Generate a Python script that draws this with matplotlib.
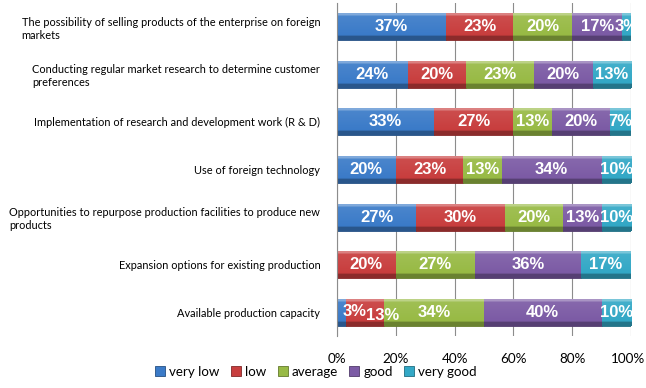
import matplotlib
matplotlib.use("Agg")
import matplotlib.pyplot as plt
import matplotlib.transforms as mtransforms
import numpy as np
from matplotlib.colors import to_rgb

categories = [
    "The possibility of selling products of the enterprise on foreign\nmarkets",
    "Conducting regular market research to determine customer\npreferences",
    "Implementation of research and development work (R & D)",
    "Use of foreign technology",
    "Opportunities to repurpose production facilities to produce new\nproducts",
    "Expansion options for existing production",
    "Available production capacity",
]
series_names = ["very low", "low", "average", "good", "very good"]
very_low = [37, 24, 33, 20, 27, 0, 3]
low = [23, 20, 27, 23, 30, 20, 13]
average = [20, 23, 13, 13, 20, 27, 34]
good = [17, 20, 20, 34, 13, 36, 40]
very_good = [3, 13, 7, 10, 10, 17, 10]
xtick_labels = ["0%", "20%", "40%", "60%", "80%", "100%"]

colors = ["#3B7BC8", "#C83E3E", "#98BA45", "#7C5BA5", "#33A8C6"]

fig = plt.figure(figsize=(6.46, 3.88), dpi=100)
ax = fig.add_axes([337/646, 1-336/388, (631-337)/646, (336-3)/388])

data = [very_low, low, average, good, very_good]
y = np.arange(len(categories))
left = np.zeros(len(categories))
bar_h = 0.57

def shade(c, f):
    r = np.array(to_rgb(c))
    if f >= 0:
        return r + (1 - r) * f
    return r * (1 + f)

grad_vals = np.linspace(0, 1, 64)
for si, (name, vals) in enumerate(zip(series_names, data)):
    vals = np.array(vals, dtype=float)
    bars = ax.barh(y, vals, left=left, height=bar_h, color=colors[si],
                   edgecolor=shade(colors[si], -0.35), linewidth=0.6,
                   label=name, zorder=2)
    base = colors[si]
    # vertical gradient (light top, darker bottom)
    col = []
    for t in grad_vals:
        if t < 0.12:
            col.append(shade(base, 0.35))
        elif t < 0.85:
            col.append(shade(base, 0.08 - 0.12 * (t - 0.12)))
        else:
            col.append(shade(base, -0.3))
    img = np.array(col).reshape(-1, 1, 3)
    for b, v in zip(bars, vals):
        if v <= 0:
            continue
        x0, y0 = b.get_x(), b.get_y()
        w, h = b.get_width(), b.get_height()
        im = ax.imshow(img, extent=(x0, x0 + w, y0 + h, y0), aspect="auto",
                       zorder=2.5, interpolation="bilinear")
        im.set_clip_path(b)
    for i, (b, v) in enumerate(zip(bars, vals)):
        if v <= 0:
            continue
        cx = left[i] + v / 2
        cy = y[i]
        # the crowded first two labels of the last row are nudged like the original
        if i == len(categories) - 1 and si < 2:
            cx = left[i] + v / 2 + (4.6 if si == 0 else 6.0)
            cy = y[i] + (-0.02 if si == 0 else 0.07)
        ax.text(cx, cy, f"{int(v)}%", ha="center", va="center",
                color="white", fontsize=12, fontweight="bold",
                family="Liberation Sans", zorder=4)
    left += vals

ax.set_xlim(0, 100)
ax.set_ylim(len(categories) - 0.5, -0.5)
ax.set_xticks(np.arange(0, 101, 20))
ax.set_xticklabels(xtick_labels, family="Lato", fontsize=9.7)
ax.tick_params(axis="x", length=0, pad=12)
# keep the last tick label inside the figure edge
last = ax.get_xticklabels()[-1]
last.set_transform(last.get_transform() +
                   mtransforms.ScaledTranslation(-3/100, 0, fig.dpi_scale_trans))
ax.set_yticks(y)
ax.set_yticklabels(categories, family="Lato", fontsize=7.9, ha="right",
                   multialignment="left")
ax.tick_params(axis="y", length=0, pad=12)
ax.grid(axis="x", color="#8C8C8C", linewidth=0.8, zorder=0)
ax.set_axisbelow(True)
for s in ["top", "right", "bottom"]:
    ax.spines[s].set_visible(False)
ax.spines["left"].set_color("#8C8C8C")
ax.spines["left"].set_linewidth(0.8)

handles, labels = ax.get_legend_handles_labels()
fig.legend(handles, labels, loc="center", bbox_to_anchor=(316/646, 1-372/388),
           ncol=5, frameon=False, prop={"family": "Lato", "size": 9.6},
           handlelength=0.75, handleheight=0.75, handletextpad=0.3,
           columnspacing=0.85, borderaxespad=0)

fig.savefig("out.png", dpi=100)
